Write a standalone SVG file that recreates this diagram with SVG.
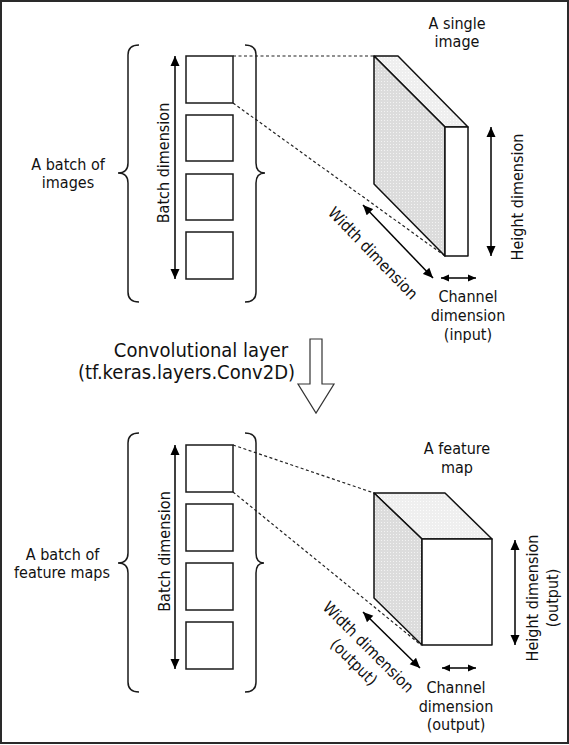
<svg xmlns="http://www.w3.org/2000/svg" width="569" height="745" viewBox="0 0 569 745">
<style>
.t{font-family:"DejaVu Sans Condensed","Liberation Sans",sans-serif;font-size:16px;fill:#111;text-anchor:middle}
.big{font-size:20px}
.box{fill:#fff;stroke:#1a1a1a;stroke-width:1.5}
.dash{fill:none;stroke:#222;stroke-width:1.2;stroke-dasharray:3 2.5}
.arr{fill:none;stroke:#000;stroke-width:1.5;marker-start:url(#ah);marker-end:url(#ah)}
.arrs{fill:none;stroke:#000;stroke-width:1.5;marker-start:url(#ahs);marker-end:url(#ahs)}
.brace{fill:none;stroke:#1a1a1a;stroke-width:1.5}
.edge{stroke:#111;stroke-width:1.5;stroke-linejoin:round}
</style>
<defs>
<marker id="ah" viewBox="0 0 10 10" refX="10" refY="5" markerWidth="10" markerHeight="10" markerUnits="userSpaceOnUse" orient="auto-start-reverse"><path d="M0,0.5 L10,5 L0,9.5 z" fill="#000"/></marker>
<marker id="ahs" viewBox="0 0 10 10" refX="10" refY="5" markerWidth="8" markerHeight="8" markerUnits="userSpaceOnUse" orient="auto-start-reverse"><path d="M0,0.5 L10,5 L0,9.5 z" fill="#000"/></marker>
<pattern id="dots" width="3" height="3" patternUnits="userSpaceOnUse"><rect width="3" height="3" fill="#dcdcdc"/><rect width="1" height="1" fill="#f3f3f3"/></pattern>
<pattern id="dotsL" width="3" height="3" patternUnits="userSpaceOnUse"><rect width="3" height="3" fill="#efefef"/><rect width="1" height="1" fill="#fcfcfc"/></pattern>
</defs>
<rect x="1" y="1" width="567" height="742" fill="#fff" stroke="#2a2a2a" stroke-width="2"/>

<g id="connectors">
<line class="dash" x1="233" y1="56" x2="374" y2="56"/>
<line class="dash" x1="233" y1="103" x2="445" y2="256"/>
<line class="dash" x1="233" y1="445" x2="374" y2="493"/>
<line class="dash" x1="233" y1="492" x2="421" y2="645"/>
<polygon points="310,339 322,339 322,384 334,384 316,413 298,384 310,384" fill="#fff" stroke="#333" stroke-width="1.2"/>
</g>

<g id="batch-top">
<path class="brace" d="M139,45 Q128,45 128,55 L128,163 Q128,173 118,173 Q128,173 128,183 L128,292 Q128,302 139,302"/>
<path class="brace" d="M245,45 Q256,45 256,55 L256,163 Q256,173 265,173 Q256,173 256,183 L256,292 Q256,302 245,302"/>
<rect class="box" x="186" y="56" width="47" height="47"/>
<rect class="box" x="186" y="115" width="47" height="46"/>
<rect class="box" x="186" y="174" width="47" height="46"/>
<rect class="box" x="186" y="232" width="47" height="47"/>
<line class="arr" x1="175" y1="56" x2="175" y2="279"/>
<text class="t" transform="translate(169,163) rotate(-90)">Batch dimension</text>
<text class="t" x="68" y="170">A batch of</text>
<text class="t" x="68" y="188">images</text>
</g>

<g id="single-image">
<polygon class="edge" points="374,56 398,56 468,127 445,127" fill="url(#dotsL)"/>
<polygon class="edge" points="374,56 445,127 445,256 374,184" fill="url(#dots)"/>
<rect class="edge" x="445" y="127" width="23" height="129" fill="#fff"/>
<text class="t" x="457" y="28.5">A single</text>
<text class="t" x="457" y="47">image</text>
<line class="arr" x1="491" y1="127" x2="491" y2="256"/>
<text class="t" transform="translate(523,197) rotate(-90)">Height dimension</text>
<line class="arr" x1="363" y1="205" x2="433" y2="278"/>
<text class="t" transform="translate(369,257) rotate(46)">Width dimension</text>
<line class="arrs" x1="441" y1="278" x2="476" y2="278"/>
<text class="t" x="468" y="302">Channel</text>
<text class="t" x="468" y="321">dimension</text>
<text class="t" x="468" y="340">(input)</text>
</g>

<g id="conv-layer">
<text class="t big" x="201" y="357">Convolutional layer</text>
<text class="t big" x="186.5" y="379">(tf.keras.layers.Conv2D)</text>
</g>

<g id="batch-bottom">
<path class="brace" d="M139,433 Q128,433 128,443 L128,553 Q128,563 118,563 Q128,563 128,573 L128,682 Q128,692 139,692"/>
<path class="brace" d="M245,433 Q256,433 256,443 L256,553 Q256,563 264,563 Q256,563 256,573 L256,682 Q256,692 245,692"/>
<rect class="box" x="186" y="445" width="47" height="47"/>
<rect class="box" x="186" y="504" width="47" height="47"/>
<rect class="box" x="186" y="563" width="47" height="47"/>
<rect class="box" x="186" y="622" width="47" height="47"/>
<line class="arr" x1="175" y1="445" x2="175" y2="669"/>
<text class="t" transform="translate(169.5,551.5) rotate(-90)">Batch dimension</text>
<text class="t" x="62.5" y="560">A batch of</text>
<text class="t" x="62" y="578">feature maps</text>
</g>

<g id="feature-map">
<polygon class="edge" points="374,493 445,493 492,539 422,539" fill="url(#dotsL)"/>
<polygon class="edge" points="374,493 422,539 422,645 374,598" fill="url(#dots)"/>
<rect class="edge" x="422" y="539" width="70" height="106" fill="#fff"/>
<text class="t" x="457" y="454">A feature</text>
<text class="t" x="457" y="473">map</text>
<line class="arr" x1="515" y1="540" x2="515" y2="645"/>
<text class="t" transform="translate(538,598) rotate(-90)">Height dimension</text>
<text class="t" transform="translate(557.5,598) rotate(-90)">(output)</text>
<line class="arr" x1="363" y1="612" x2="420" y2="668"/>
<text class="t" transform="translate(364.5,651) rotate(45)">Width dimension</text>
<text class="t" transform="translate(350,666) rotate(45)">(output)</text>
<line class="arrs" x1="442" y1="668" x2="476" y2="668"/>
<text class="t" x="456" y="693">Channel</text>
<text class="t" x="456" y="711.5">dimension</text>
<text class="t" x="456" y="730">(output)</text>
</g>
</svg>
